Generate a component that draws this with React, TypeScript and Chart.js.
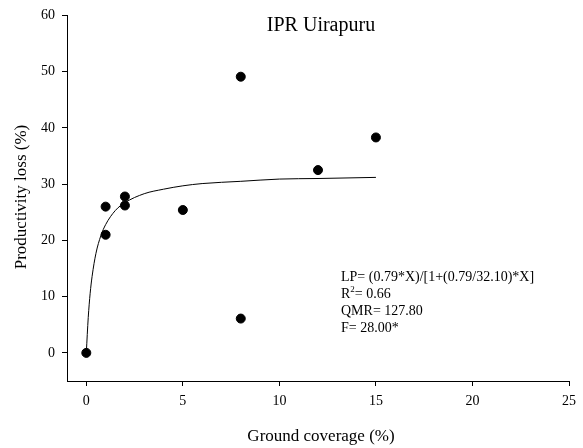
import React, { useEffect, useRef } from 'react';
import { Chart, registerables } from 'chart.js';

Chart.register(...registerables);

// Observed data points
const pointX = [0, 1, 1, 2, 2, 5, 8, 8, 12, 15];
const pointY = [0, 26.0, 21.0, 27.8, 26.2, 25.4, 49.1, 6.1, 32.5, 38.3];

// Fitted curve
const curveX = [0, 0.1, 0.2, 0.3, 0.5, 0.75, 1, 1.5, 2, 3, 4, 5, 6, 8, 10, 12, 15];
const curveY = [0, 6.3, 10.6, 13.6, 17.7, 20.8, 22.8, 25.3, 26.7, 28.3, 29.1, 29.7, 30.1, 30.5, 30.9, 31.0, 31.2];

const xTicks = [0, 5, 10, 15, 20, 25];
const yTicks = [0, 10, 20, 30, 40, 50, 60];

const titleText = 'IPR Uirapuru';
const xTitle = 'Ground coverage (%)';
const yTitle = 'Productivity loss (%)';
const eqLine1 = 'LP= (0.79*X)/[1+(0.79/32.10)*X]';
const eqR2Value = '= 0.66';
const eqLine3 = 'QMR= 127.80';
const eqLine4 = 'F= 28.00*';

const FONT = '"Liberation Serif", "Times New Roman", serif';

const textPlugin = {
  id: 'textPlugin',
  afterDraw(chart: any) {
    const ctx = chart.ctx;
    ctx.save();
    ctx.fillStyle = '#000';
    // Title
    ctx.font = `20px ${FONT}`;
    ctx.textAlign = 'center';
    ctx.textBaseline = 'alphabetic';
    ctx.fillText(titleText, 321, 31);
    // X title
    ctx.font = `17px ${FONT}`;
    ctx.fillText(xTitle, 321, 441);
    // Y title
    ctx.save();
    ctx.translate(26, 197);
    ctx.rotate(-Math.PI / 2);
    ctx.textAlign = 'center';
    ctx.fillText(yTitle, 0, 0);
    ctx.restore();
    // Equation block
    ctx.font = `14px ${FONT}`;
    ctx.textAlign = 'left';
    const x0 = 341;
    ctx.fillText(eqLine1, x0, 281);
    ctx.fillText('R', x0, 298);
    const rw = ctx.measureText('R').width;
    ctx.font = `9px ${FONT}`;
    ctx.fillText('2', x0 + rw, 292);
    const sw = ctx.measureText('2').width;
    ctx.font = `14px ${FONT}`;
    ctx.fillText(eqR2Value, x0 + rw + sw, 298);
    ctx.fillText(eqLine3, x0, 315);
    ctx.fillText(eqLine4, x0, 332);
    ctx.restore();
  },
};

export default function App() {
  const ref = useRef<HTMLCanvasElement | null>(null);
  useEffect(() => {
    if (!ref.current) return;
    const chart = new Chart(ref.current, {
      type: 'scatter',
      data: {
        datasets: [
          {
            label: 'observed',
            data: pointX.map((x, i) => ({ x, y: pointY[i] })),
            backgroundColor: '#000',
            borderColor: '#000',
            pointRadius: 4.5,
            pointHoverRadius: 4.5,
            showLine: false,
          },
          {
            label: 'fit',
            data: curveX.map((x, i) => ({ x, y: curveY[i] })),
            borderColor: '#000',
            borderWidth: 1,
            pointRadius: 0,
            showLine: true,
            cubicInterpolationMode: 'monotone',
          },
        ],
      } as any,
      options: {
        responsive: false,
        animation: false,
        events: [],
        layout: { padding: { left: 0, right: 8, top: 13, bottom: 0 } },
        plugins: {
          legend: { display: false },
          title: { display: false },
          tooltip: { enabled: false },
        },
        scales: {
          x: {
            type: 'linear',
            min: -1,
            max: 25,
            afterBuildTicks: (s: any) => {
              s.ticks = xTicks.map((v) => ({ value: v }));
            },
            afterFit: (s: any) => {
              s.height = 67;
            },
            grid: { drawOnChartArea: false, drawTicks: true, tickLength: 5, color: '#000' },
            border: { display: true, color: '#000', width: 1 },
            ticks: {
              color: '#000',
              font: { family: FONT, size: 14 },
              padding: 7,
              maxRotation: 0,
            },
          },
          y: {
            type: 'linear',
            min: -5,
            max: 60,
            afterBuildTicks: (s: any) => {
              s.ticks = yTicks.map((v) => ({ value: v }));
            },
            afterFit: (s: any) => {
              s.width = 67;
            },
            grid: { drawOnChartArea: false, drawTicks: true, tickLength: 5, color: '#000' },
            border: { display: true, color: '#000', width: 1 },
            ticks: {
              color: '#000',
              font: { family: FONT, size: 14 },
              padding: 7,
            },
          },
        },
      } as any,
      plugins: [textPlugin],
    });
    return () => chart.destroy();
  }, []);
  return (
    <div style={{ position: 'fixed', left: 0, top: 0, width: 583, height: 448, background: '#fff' }}>
      <canvas ref={ref} width={583} height={448} style={{ width: 583, height: 448 }} />
    </div>
  );
}
